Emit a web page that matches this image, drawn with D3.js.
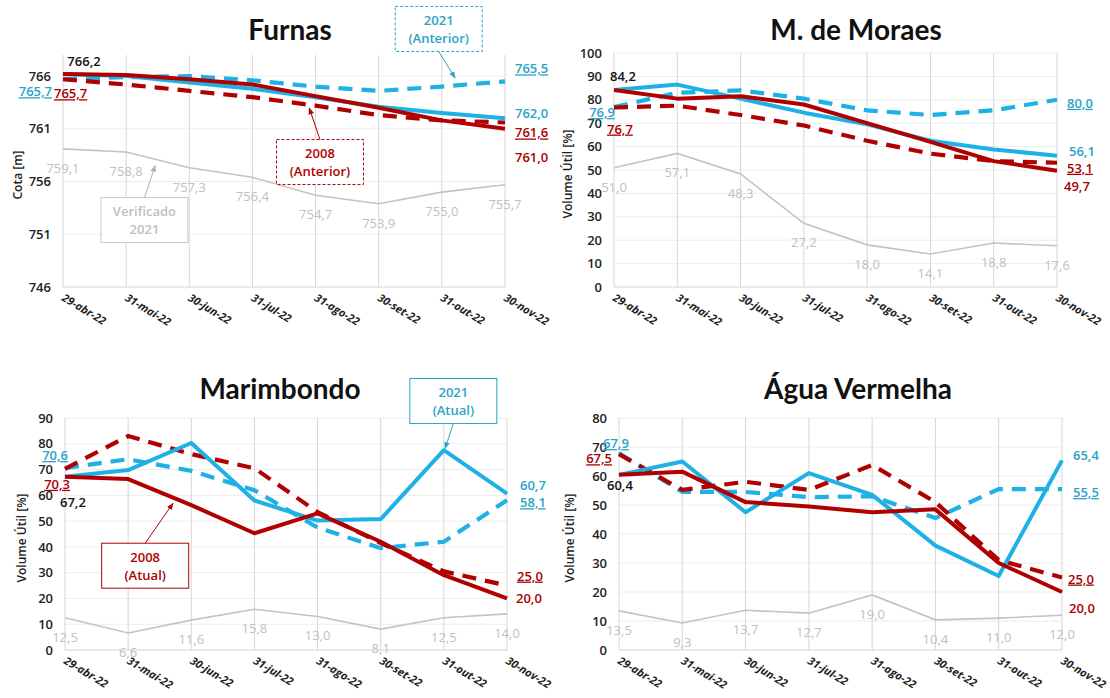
<!DOCTYPE html>
<html>
<head>
<meta charset="utf-8">
<script src="https://cdn.jsdelivr.net/npm/d3@7"></script>
<style>
  body { margin: 0; background: #fff; }
  text { font-family: "Open Sans", "Noto Sans", sans-serif; }
</style>
</head>
<body>
<div id="chart"></div>
<script>
// categories (x axis)
var categorias = ["29-abr-22", "31-mai-22", "30-jun-22", "31-jul-22", "31-ago-22", "30-set-22", "31-out-22", "30-nov-22"];

// Furnas - cota [m]
var furnasVerificado2021 = [759.1, 758.8, 757.3, 756.4, 754.7, 753.9, 755.0, 755.7];
var furnas2021Anterior = [765.7, 765.9, 766.0, 765.6, 765.0, 764.6, 765.0, 765.5];
var furnas2008Anterior = [765.7, 765.2, 764.6, 764.0, 763.2, 762.3, 761.8, 761.6];
var furnas2021Atual = [766.2, 766.0, 765.4, 764.8, 764.0, 763.1, 762.5, 762.0];
var furnas2008Atual = [766.2, 766.1, 765.7, 765.2, 764.1, 763.0, 761.8, 761.0];
var furnasTicks = [746, 751, 756, 761, 766];

// M. de Moraes - volume util [%]
var moraesVerificado2021 = [51.0, 57.1, 48.3, 27.2, 18.0, 14.1, 18.8, 17.6];
var moraes2021Anterior = [76.9, 83.0, 84.0, 80.5, 75.5, 73.5, 75.5, 80.0];
var moraes2008Anterior = [76.7, 77.5, 73.5, 69.0, 62.5, 57.0, 53.8, 53.1];
var moraes2021Atual = [84.2, 86.5, 80.5, 74.5, 69.5, 62.5, 58.8, 56.1];
var moraes2008Atual = [84.2, 80.5, 81.5, 78.0, 70.0, 62.0, 53.8, 49.7];
var moraesTicks = [0, 10, 20, 30, 40, 50, 60, 70, 80, 90, 100];

// Marimbondo - volume util [%]
var marimbondoVerificado2021 = [12.5, 6.6, 11.6, 15.8, 13.0, 8.1, 12.5, 14.0];
var marimbondo2021Anterior = [70.6, 74.0, 69.5, 62.0, 47.5, 39.5, 42.0, 58.1];
var marimbondo2008Anterior = [70.3, 83.0, 76.0, 70.5, 53.5, 41.5, 30.5, 25.0];
var marimbondo2021Atual = [67.2, 69.8, 80.3, 58.0, 50.2, 50.8, 77.5, 60.7];
var marimbondo2008Atual = [67.2, 66.3, 56.2, 45.3, 53.0, 42.0, 29.0, 20.0];
var marimbondoTicks = [0, 10, 20, 30, 40, 50, 60, 70, 80, 90];

// Agua Vermelha - volume util [%]
var aguaVerificado2021 = [13.5, 9.3, 13.7, 12.7, 19.0, 10.4, 11.0, 12.0];
var agua2021Anterior = [67.9, 54.5, 54.5, 52.7, 53.0, 45.5, 55.5, 55.5];
var agua2008Anterior = [67.5, 55.2, 58.0, 55.2, 63.8, 51.0, 31.0, 25.0];
var agua2021Atual = [60.4, 65.0, 47.5, 61.0, 53.5, 36.0, 25.5, 65.4];
var agua2008Atual = [60.4, 61.5, 51.0, 49.5, 47.5, 48.5, 30.0, 20.0];
var aguaTicks = [0, 10, 20, 30, 40, 50, 60, 70, 80];

var BLUE = "#1db1e6", BLUE_TXT = "#2ba3c9";
var RED = "#b00000", RED_TXT = "#a80000";
var GRAY = "#c3c3c3", GRAY_TXT = "#c0c0c0";

var svg = d3.select("#chart")
  .append("svg")
  .attr("width", 1110)
  .attr("height", 698);

var fmt = function(v) { return d3.format(".1f")(v).replace(".", ","); };

var panels = [
  { title: "Furnas", titleX: 290, titleY: 40, yLabel: "Cota [m]", yLabelX: 18,
    left: 63, right: 505, top: 55, bottom: 287, domain: [746, 768], ticks: furnasTicks,
    series: { ver: furnasVerificado2021, ant21: furnas2021Anterior, ant08: furnas2008Anterior, at21: furnas2021Atual, at08: furnas2008Atual },
    labels: [
      { s: "at08", i: 0, dx: 21, dy: -8, a: "middle", c: "#111" },
      { s: "ant21", i: 0, dx: -11, dy: 17, a: "end", c: BLUE_TXT, u: true },
      { s: "ant08", i: 0, dx: -9, dy: 19, a: "start", c: RED_TXT, u: true },
      { s: "ant21", i: 7, dx: 10, dy: -8, a: "start", c: BLUE_TXT, u: true },
      { s: "at21", i: 7, dx: 10, dy: 0, a: "start", c: BLUE_TXT },
      { s: "ant08", i: 7, dx: 10, dy: 15, a: "start", c: RED_TXT, u: true },
      { s: "at08", i: 7, dx: 10, dy: 33, a: "start", c: RED_TXT }
    ],
    notes: [
      { lines: ["Verificado", "2021"], c: GRAY_TXT, dash: false, bi: 1.29, bv: 752.35, ti: 1.46, tv: 757.5 },
      { lines: ["2008", "(Anterior)"], c: RED, dash: true, bi: 4.07, bv: 757.85, ti: 3.9, tv: 762.97 },
      { lines: ["2021", "(Anterior)"], c: BLUE_TXT, dash: true, bi: 5.95, bv: 770.47, ti: 6.21, tv: 765.82 }
    ] },
  { title: "M. de Moraes", titleX: 856, titleY: 40, yLabel: "Volume Útil [%]", yLabelX: 568,
    left: 614, right: 1057, top: 53, bottom: 287, domain: [0, 100], ticks: moraesTicks,
    series: { ver: moraesVerificado2021, ant21: moraes2021Anterior, ant08: moraes2008Anterior, at21: moraes2021Atual, at08: moraes2008Atual },
    labels: [
      { s: "at08", i: 0, dx: -4, dy: -9, a: "start", c: "#111" },
      { s: "ant21", i: 0, dx: 1, dy: 10, a: "end", c: BLUE_TXT, u: true },
      { s: "ant08", i: 0, dx: -7, dy: 26, a: "start", c: RED_TXT, u: true },
      { s: "ant21", i: 7, dx: 10, dy: 8, a: "start", c: BLUE_TXT, u: true },
      { s: "at21", i: 7, dx: 12, dy: 0, a: "start", c: BLUE_TXT },
      { s: "ant08", i: 7, dx: 10, dy: 10, a: "start", c: RED_TXT, u: true },
      { s: "at08", i: 7, dx: 7, dy: 20, a: "start", c: RED_TXT }
    ],
    notes: [] },
  { title: "Marimbondo", titleX: 280, titleY: 399, yLabel: "Volume Útil [%]", yLabelX: 22,
    left: 65, right: 507, top: 418, bottom: 650, domain: [0, 90], ticks: marimbondoTicks,
    series: { ver: marimbondoVerificado2021, ant21: marimbondo2021Anterior, ant08: marimbondo2008Anterior, at21: marimbondo2021Atual, at08: marimbondo2008Atual },
    labels: [
      { s: "at08", i: 0, dx: -5, dy: 30, a: "start", c: "#111" },
      { s: "ant21", i: 0, dx: 3, dy: -8, a: "end", c: BLUE_TXT, u: true },
      { s: "ant08", i: 0, dx: 5, dy: 20, a: "end", c: RED_TXT, u: true },
      { s: "at21", i: 7, dx: 13, dy: -4, a: "start", c: BLUE_TXT },
      { s: "ant21", i: 7, dx: 13, dy: 7, a: "start", c: BLUE_TXT, u: true },
      { s: "ant08", i: 7, dx: 10, dy: -5, a: "start", c: RED_TXT, u: true },
      { s: "at08", i: 7, dx: 9, dy: 5, a: "start", c: RED_TXT }
    ],
    notes: [
      { lines: ["2008", "(Atual)"], c: RED, dash: false, bi: 1.27, bv: 32.7, ti: 1.71, tv: 56.9 },
      { lines: ["2021", "(Atual)"], c: BLUE_TXT, dash: false, bi: 6.15, bv: 96.6, ti: 6.02, tv: 78.2 }
    ] },
  { title: "Água Vermelha", titleX: 858, titleY: 399, yLabel: "Volume Útil [%]", yLabelX: 570,
    left: 619, right: 1062, top: 418, bottom: 650, domain: [0, 80], ticks: aguaTicks,
    series: { ver: aguaVerificado2021, ant21: agua2021Anterior, ant08: agua2008Anterior, at21: agua2021Atual, at08: agua2008Atual },
    labels: [
      { s: "at08", i: 0, dx: -12, dy: 15, a: "start", c: "#111" },
      { s: "ant21", i: 0, dx: -16, dy: -5, a: "start", c: BLUE_TXT, u: true },
      { s: "ant08", i: 0, dx: -7, dy: 9, a: "end", c: RED_TXT, u: true },
      { s: "at21", i: 7, dx: 11, dy: 0, a: "start", c: BLUE_TXT },
      { s: "ant21", i: 7, dx: 11, dy: 8, a: "start", c: BLUE_TXT, u: true },
      { s: "ant08", i: 7, dx: 6, dy: 6, a: "start", c: RED_TXT, u: true },
      { s: "at08", i: 7, dx: 7, dy: 21, a: "start", c: RED_TXT }
    ],
    notes: [] }
];

// arrow markers
var defs = svg.append("defs");
[["arrRed", RED], ["arrBlue", BLUE_TXT], ["arrGray", "#b0b0b0"]].forEach(function(m) {
  defs.append("marker")
    .attr("id", m[0])
    .attr("viewBox", "0 0 10 10")
    .attr("refX", 9).attr("refY", 5)
    .attr("markerWidth", 7).attr("markerHeight", 7)
    .attr("orient", "auto")
    .append("path")
    .attr("d", "M0,1 L10,5 L0,9 z")
    .attr("fill", m[1]);
});

panels.forEach(function(p) {
  var g = svg.append("g");

  var x = d3.scalePoint().domain(categorias).range([p.left, p.right]);
  var xi = d3.scaleLinear().domain([0, categorias.length - 1]).range([p.left, p.right]);
  var y = d3.scaleLinear().domain(p.domain).range([p.bottom, p.top]);

  // horizontal grid
  g.append("g")
    .selectAll("line")
    .data(p.ticks)
    .enter().append("line")
    .attr("x1", p.left).attr("x2", p.right)
    .attr("y1", function(d) { return y(d); })
    .attr("y2", function(d) { return y(d); })
    .attr("stroke", function(d, i) { return i == 0 ? "#d4d4d4" : "#ececec"; })
    .attr("stroke-width", 1);

  // vertical grid
  g.append("g")
    .selectAll("line")
    .data(categorias)
    .enter().append("line")
    .attr("x1", function(d) { return x(d); })
    .attr("x2", function(d) { return x(d); })
    .attr("y1", p.top).attr("y2", p.bottom)
    .attr("stroke", "#d6d6d6")
    .attr("stroke-width", 1);

  // y axis tick labels
  var yAxis = g.append("g")
    .attr("transform", "translate(" + p.left + ",0)")
    .call(d3.axisLeft(y).tickValues(p.ticks).tickSize(0).tickPadding(12));
  yAxis.select(".domain").remove();
  yAxis.selectAll("text")
    .style("font-size", "13px")
    .style("font-weight", "600")
    .attr("fill", "#222");

  // x axis tick labels, slanted
  g.append("g")
    .selectAll("text")
    .data(categorias)
    .enter().append("text")
    .attr("transform", function(d) { return "translate(" + (x(d) - 2) + "," + (p.bottom + 13) + ") rotate(31)"; })
    .style("font-size", "11px")
    .style("font-weight", "700")
    .style("font-style", "italic")
    .attr("fill", "#222")
    .text(function(d) { return d; });

  // title
  g.append("text")
    .attr("x", p.titleX).attr("y", p.titleY)
    .attr("text-anchor", "middle")
    .style("font-family", "Lato, 'Open Sans', sans-serif")
    .style("font-size", "28px")
    .style("font-weight", "700")
    .attr("fill", "#111")
    .text(p.title);

  // y axis title
  g.append("text")
    .attr("transform", "translate(" + p.yLabelX + "," + ((p.top + p.bottom) / 2 + 4) + ") rotate(-90)")
    .attr("text-anchor", "middle")
    .attr("dy", "0.35em")
    .style("font-size", "12px")
    .style("font-weight", "600")
    .attr("fill", "#222")
    .text(p.yLabel);

  var line = d3.line()
    .x(function(d, i) { return x(categorias[i]); })
    .y(function(d) { return y(d); });

  // lines
  g.append("path").datum(p.series.ver)
    .attr("d", line).attr("fill", "none")
    .attr("stroke", GRAY).attr("stroke-width", 1.6);
  g.append("path").datum(p.series.ant21)
    .attr("d", line).attr("fill", "none")
    .attr("stroke", BLUE).attr("stroke-width", 4.2)
    .attr("stroke-dasharray", "14,9");
  g.append("path").datum(p.series.ant08)
    .attr("d", line).attr("fill", "none")
    .attr("stroke", RED).attr("stroke-width", 4.2)
    .attr("stroke-dasharray", "14,9");
  g.append("path").datum(p.series.at21)
    .attr("d", line).attr("fill", "none")
    .attr("stroke", BLUE).attr("stroke-width", 4)
    .attr("stroke-linejoin", "round");
  g.append("path").datum(p.series.at08)
    .attr("d", line).attr("fill", "none")
    .attr("stroke", RED).attr("stroke-width", 4)
    .attr("stroke-linejoin", "round");

  // verificado labels (gray, below points)
  g.append("g")
    .selectAll("text")
    .data(p.series.ver)
    .enter().append("text")
    .attr("x", function(d, i) { return x(categorias[i]); })
    .attr("y", function(d) { return y(d) + 24; })
    .attr("text-anchor", "middle")
    .style("font-size", "13px")
    .attr("fill", GRAY_TXT)
    .text(function(d) { return fmt(d); });

  // start / end value labels
  p.labels.forEach(function(l) {
    var v = p.series[l.s][l.i];
    g.append("text")
      .attr("x", x(categorias[l.i]) + l.dx)
      .attr("y", y(v) + l.dy)
      .attr("text-anchor", l.a)
      .style("font-size", "13px")
      .style("font-weight", "600")
      .style("text-decoration", l.u ? "underline" : "none")
      .attr("fill", l.c)
      .text(fmt(v));
  });

  // callout boxes
  p.notes.forEach(function(n) {
    var bx = xi(n.bi), by = y(n.bv), w = 87, h = 45;
    var tx = xi(n.ti), ty = y(n.tv);
    var mk = n.c == RED ? "arrRed" : (n.c == BLUE_TXT ? "arrBlue" : "arrGray");
    var lc = n.c == GRAY_TXT ? "#c8c8c8" : n.c;
    g.append("rect")
      .attr("x", bx - w / 2).attr("y", by - h / 2)
      .attr("width", w).attr("height", h)
      .attr("fill", "#fff")
      .attr("stroke", lc)
      .attr("stroke-width", 1)
      .attr("stroke-dasharray", n.dash ? "3,2" : null);
    var sy = ty < by ? by - h / 2 : by + h / 2;
    g.append("line")
      .attr("x1", bx).attr("y1", sy)
      .attr("x2", tx).attr("y2", ty)
      .attr("stroke", n.c == GRAY_TXT ? "#b0b0b0" : n.c)
      .attr("stroke-width", 1)
      .attr("marker-end", "url(#" + mk + ")");
    n.lines.forEach(function(t, k) {
      g.append("text")
        .attr("x", bx).attr("y", by - 4 + k * 18)
        .attr("text-anchor", "middle")
        .style("font-size", "13px")
        .style("font-weight", "600")
        .attr("fill", n.c)
        .text(t);
    });
  });
});
</script>
</body>
</html>
